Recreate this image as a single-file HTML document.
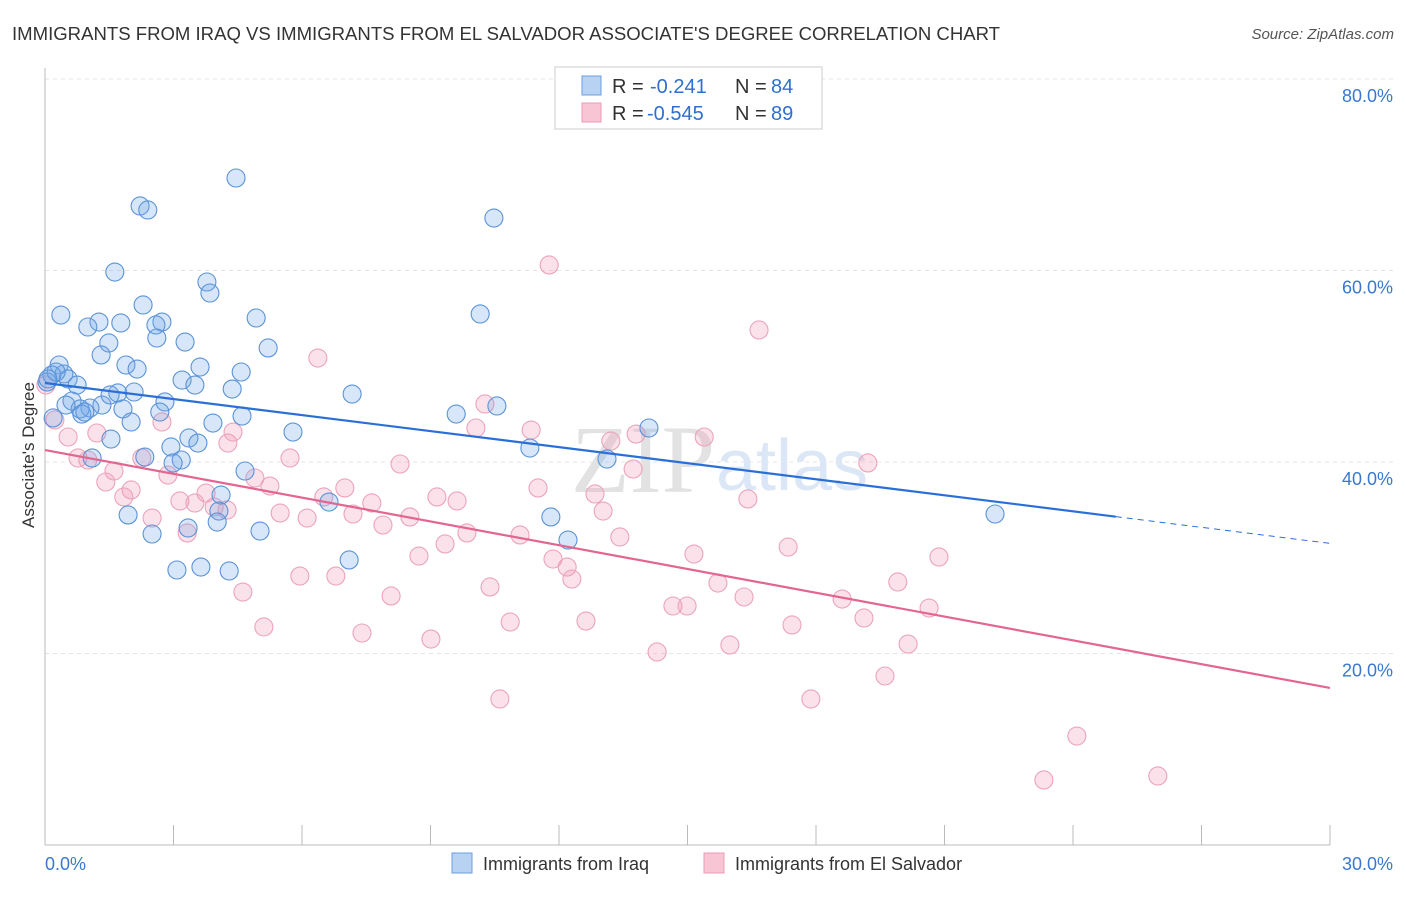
<!DOCTYPE html>
<html><head><meta charset="utf-8"><style>
body{margin:0;background:#fff;font-family:"Liberation Sans",sans-serif}
</style></head><body>
<svg width="1406" height="892" xmlns="http://www.w3.org/2000/svg" style="font-family:'Liberation Sans',sans-serif">
<text x="12" y="40" font-size="18" fill="#333" textLength="988" lengthAdjust="spacingAndGlyphs">IMMIGRANTS FROM IRAQ VS IMMIGRANTS FROM EL SALVADOR ASSOCIATE'S DEGREE CORRELATION CHART</text>
<text x="1394" y="39" font-size="15" fill="#555" font-style="italic" text-anchor="end">Source: ZipAtlas.com</text>
<g id="grid"></g>
<g id="axes"></g>
<text x="715" y="492" font-size="96" fill="#e2e2e2" text-anchor="end" font-family="Liberation Serif">ZIP</text>
<text x="716" y="490" font-size="72" fill="#dbe7f6">atlas</text>
<g id="pts"></g>
<g id="trends"></g>
<text x="34" y="455" font-size="17" fill="#333" text-anchor="middle" transform="rotate(-90 34 455)">Associate's Degree</text>
<g>
<rect x="555" y="67" width="267" height="62" fill="#fff" stroke="#ccc"/>
<rect x="582" y="76" width="19" height="19" fill="#b8d2f3" stroke="#6a9fdc"/>
<rect x="582" y="103" width="19" height="19" fill="#f8c5d5" stroke="#eb9bb5"/>
<text x="612" y="93" font-size="20" fill="#333">R =</text>
<text x="650" y="93" font-size="20" fill="#2f6fd0">-0.241</text>
<text x="735" y="93" font-size="20" fill="#333">N =</text>
<text x="771" y="93" font-size="20" fill="#2f6fd0">84</text>
<text x="612" y="120" font-size="20" fill="#333">R =</text>
<text x="647" y="120" font-size="20" fill="#2f6fd0">-0.545</text>
<text x="735" y="120" font-size="20" fill="#333">N =</text>
<text x="771" y="120" font-size="20" fill="#2f6fd0">89</text>
</g>
<g>
<rect x="452" y="853" width="20" height="20" fill="#b8d2f3" stroke="#6a9fdc"/>
<text x="483" y="870" font-size="18" fill="#333">Immigrants from Iraq</text>
<rect x="704" y="853" width="20" height="20" fill="#f8c5d5" stroke="#eb9bb5"/>
<text x="735" y="870" font-size="18" fill="#333">Immigrants from El Salvador</text>
</g>
</svg>
<script>
const blueX=[4.46,2.22,2.40,10.48,1.63,3.78,3.85,2.29,0.37,10.16,4.93,1.26,1.77,2.73,1.00,2.59,2.61,3.27,1.49,5.21,1.31,1.89,0.33,2.15,3.62,4.58,0.44,0.16,3.20,0.54,0.75,4.37,0.05,3.50,1.70,2.08,7.17,2.80,0.63,1.33,1.05,0.82,1.82,2.68,10.55,9.60,0.86,0.19,3.92,2.01,4.60,5.79,3.36,1.54,14.10,2.94,3.57,11.32,2.33,1.10,3.18,2.99,13.12,4.67,4.11,6.63,4.06,1.94,11.81,22.18,4.02,3.34,2.50,5.02,12.21,7.10,3.08,3.64,4.30,0.26,0.07,0.49,0.93,1.52];
const blueY=[69.66,66.74,66.32,65.48,59.84,58.80,57.65,56.40,55.35,55.46,55.04,54.62,54.52,54.62,54.10,54.31,52.95,52.53,52.43,51.91,51.18,50.13,50.13,49.71,49.92,49.40,49.19,49.09,48.56,48.67,48.04,47.62,48.36,48.04,47.21,47.31,47.10,46.27,46.37,45.95,45.64,45.54,45.54,45.22,45.85,45.01,45.01,44.60,44.07,44.18,44.80,43.13,42.51,42.40,43.55,41.57,41.98,41.46,40.52,40.42,40.21,39.90,40.31,39.06,36.55,35.82,34.88,34.47,34.26,34.57,33.73,33.11,32.48,32.79,31.85,29.77,28.72,29.03,28.62,49.40,48.67,45.95,45.22,47.00];
const pinkX=[11.77,16.67,6.37,10.27,0.02,0.23,0.54,1.21,2.73,10.06,11.35,13.80,15.39,4.27,13.21,4.39,5.72,0.77,1.00,2.26,8.29,19.21,1.61,2.87,13.73,1.42,4.90,2.01,5.25,7.00,11.51,3.76,1.84,3.15,3.50,6.51,9.15,9.62,12.84,7.63,4.25,5.49,16.41,2.50,6.12,7.19,13.03,8.52,7.89,9.85,11.09,13.42,3.32,3.95,9.34,17.35,8.73,15.15,20.87,11.86,12.19,5.95,6.79,12.30,15.71,10.39,19.91,4.62,8.08,16.32,18.61,14.66,14.99,20.64,19.12,10.86,12.63,17.44,5.11,7.40,9.01,15.99,20.15,14.29,19.61,10.62,17.88,24.09,25.98,23.32];
const pinkY=[60.58,53.79,50.86,46.06,48.04,44.39,42.61,43.03,44.18,43.55,43.34,42.92,42.61,41.98,42.19,43.13,40.42,40.42,40.21,40.42,39.79,39.90,39.06,38.64,39.27,37.91,38.33,37.08,37.49,37.29,37.29,36.76,36.35,35.93,35.72,36.35,36.35,35.93,36.66,35.72,34.99,34.67,36.14,34.15,34.15,34.57,34.88,34.26,33.42,32.59,32.38,32.17,32.59,35.30,31.44,31.12,30.18,30.39,30.08,29.87,29.03,28.09,28.09,27.78,27.36,26.95,27.47,26.42,26.01,25.90,25.69,24.96,24.96,24.75,23.71,23.29,23.39,22.98,22.77,22.14,21.51,20.89,20.99,20.16,17.65,15.25,15.25,11.38,7.21,6.79];
const yTicks=[20,40,60,80];
const yTickLabels=["20.0%","40.0%","60.0%","80.0%"];
const blueTrend=[48.25,31.5], blueSolidEnd=25;
const pinkTrend=[41.25,16.4];
const NS="http://www.w3.org/2000/svg";
const X0=45,X1=1330,Y0=845,PPY=191.5/20;
const sx=v=>X0+(v/30)*(X1-X0), sy=v=>Y0-v*PPY;
function mk(t,a,p){const e=document.createElementNS(NS,t);for(const k in a)e.setAttribute(k,a[k]);p.appendChild(e);return e;}
const grid=document.getElementById('grid'),axes=document.getElementById('axes');
yTicks.forEach((t,i)=>{
 const l=mk('line',{x1:X0,x2:1394,y1:sy(t),y2:sy(t),stroke:'#e4e4e4','stroke-dasharray':'4,4'},grid);
 
 
 const tx=mk('text',{x:1393,y:sy(t)+23,'font-size':18,fill:'#3a78d0','text-anchor':'end'},axes);
 tx.textContent=yTickLabels[i];
 
 
});
mk('line',{x1:X0,x2:X0,y1:68,y2:Y0,stroke:'#bbb'},axes);
mk('line',{x1:X0,x2:X1,y1:Y0,y2:Y0,stroke:'#bbb'},axes);
for(let i=0;i<=10;i++){mk('line',{x1:sx(i*3),x2:sx(i*3),y1:Y0,y2:Y0-20,stroke:'#bbb'},axes);}
const xl=mk('text',{x:45,y:870,'font-size':18,fill:'#3a78d0'},axes);xl.textContent='0.0%';


const xr=mk('text',{x:1393,y:870,'font-size':18,fill:'#3a78d0','text-anchor':'end'},axes);xr.textContent='30.0%';


const pts=document.getElementById('pts');
pinkX.forEach((x,i)=>{const c=mk('circle',{cx:sx(x),cy:sy(pinkY[i]),r:9,fill:'rgba(242,150,180,0.28)',stroke:'#eca3bb','stroke-width':1.1},pts);
 
 });
blueX.forEach((x,i)=>{const c=mk('circle',{cx:sx(x),cy:sy(blueY[i]),r:9,fill:'rgba(110,165,230,0.28)',stroke:'#5b93d8','stroke-width':1.1},pts);
 
 });
const tr=document.getElementById('trends');
const by=x=>blueTrend[0]+(blueTrend[1]-blueTrend[0])*x/30;
const b1=mk('line',{x1:sx(0),y1:sy(by(0)),x2:sx(blueSolidEnd),y2:sy(by(blueSolidEnd)),stroke:'#2b6fd6','stroke-width':2.2},tr);


const b2=mk('line',{x1:sx(blueSolidEnd),y1:sy(by(blueSolidEnd)),x2:sx(30),y2:sy(by(30)),stroke:'#2b6fd6','stroke-width':1,'stroke-dasharray':'6,5'},tr);


const p1=mk('line',{x1:sx(0),y1:sy(pinkTrend[0]),x2:sx(30),y2:sy(pinkTrend[1]),stroke:'#e2668f','stroke-width':2.2},tr);


</script>
</body></html>
